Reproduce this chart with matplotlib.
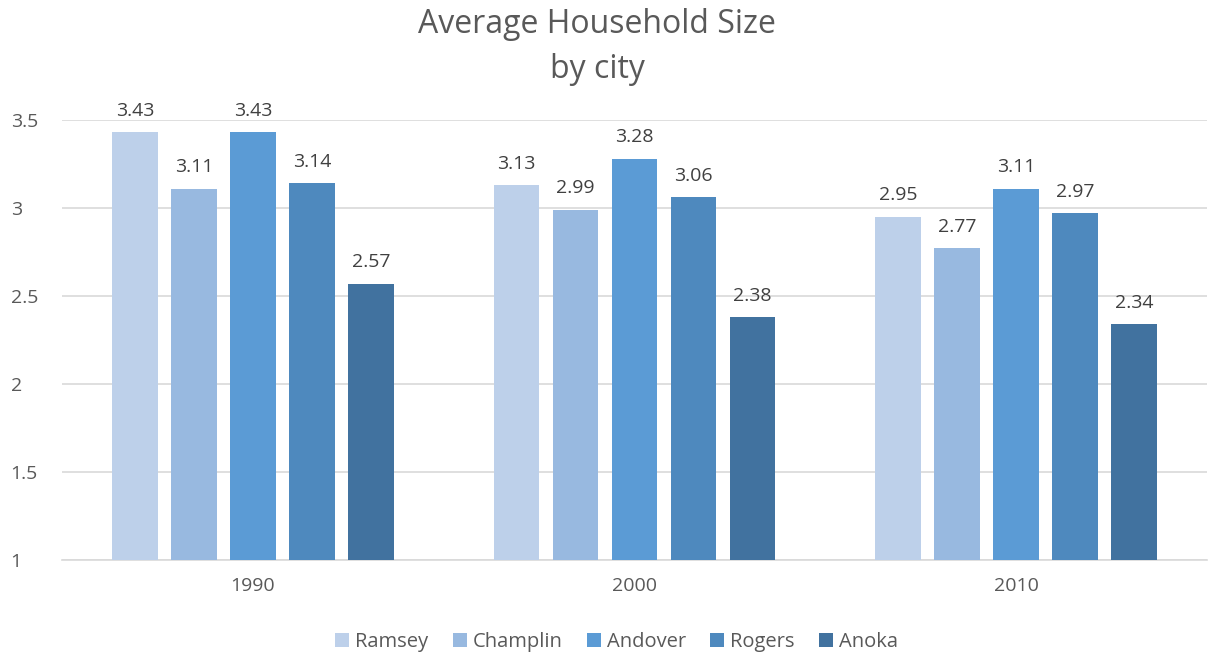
import numpy as np
import matplotlib.pyplot as plt

years = ['1990', '2000', '2010']
cities = ['Ramsey', 'Champlin', 'Andover', 'Rogers', 'Anoka']
ramsey = [3.43, 3.13, 2.95]
champlin = [3.11, 2.99, 2.77]
andover = [3.43, 3.28, 3.11]
rogers = [3.14, 3.06, 2.97]
anoka = [2.57, 2.38, 2.34]
yticks = [1, 1.5, 2, 2.5, 3, 3.5]
yticklabels = ['1', '1.5', '2', '2.5', '3', '3.5']

series = [ramsey, champlin, andover, rogers, anoka]
colors = ['#BDD0EA', '#98B9E0', '#5B9BD5', '#4E89BE', '#41729F']
grey = '#595959'

plt.rcParams['font.family'] = ['Open Sans', 'DejaVu Sans']

fig = plt.figure(figsize=(12.09, 6.58), dpi=100)
ax = fig.add_axes([0.0513, 0.149, 0.947, 0.6686])

x = np.arange(len(years))
step = 0.1546
width = 0.12
for i, (vals, c, name) in enumerate(zip(series, colors, cities)):
    pos = x + (i - 2) * step
    ax.bar(pos, vals, width=width, color=c, label=name, zorder=3)
    for p, v in zip(pos, vals):
        ax.text(p, v + 0.07, f'{v:.2f}', ha='center', va='bottom',
                fontsize=14, color='#404040')

ax.set_xlim(-0.5, 2.5)
ax.set_ylim(1, 3.5)
ax.set_yticks(yticks)
ax.set_yticklabels(yticklabels)
ax.set_xticks(x)
ax.set_xticklabels(years)
ax.tick_params(axis='both', length=0, labelsize=14, labelcolor=grey)
ax.tick_params(axis='y', pad=37)
ax.tick_params(axis='x', pad=12)
for lab in ax.get_yticklabels():
    lab.set_horizontalalignment('left')
ax.grid(axis='y', color='#D9D9D9', linewidth=1.2, zorder=0)
for s in ['top', 'right', 'left']:
    ax.spines[s].set_visible(False)
ax.spines['bottom'].set_color('#D9D9D9')
ax.spines['bottom'].set_linewidth(1.2)

fig.text(0.494, 0.988, 'Average Household Size\nby city', ha='center', va='top',
         fontsize=23, color=grey, linespacing=1.5)

fig.legend(loc='center', bbox_to_anchor=(0.51, 0.024), ncol=5, frameon=False,
           fontsize=14.5, labelcolor=grey, handlelength=0.7, handleheight=0.7,
           handletextpad=0.3, columnspacing=1.2)

fig.savefig('out.png', dpi=100)
